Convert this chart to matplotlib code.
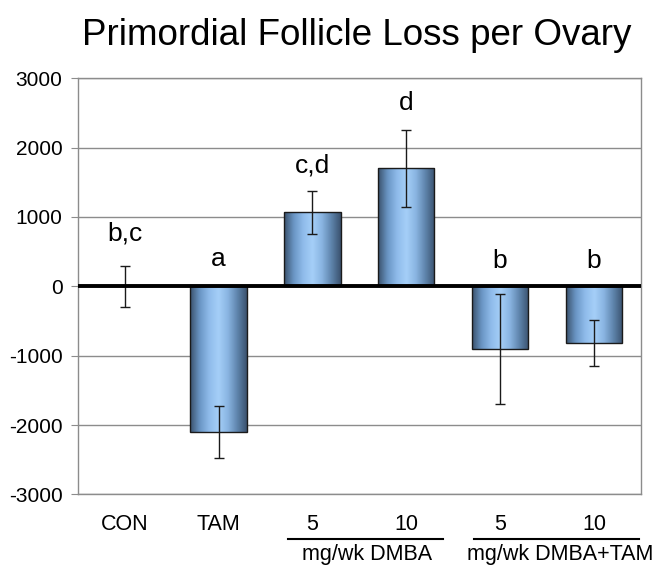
import numpy as np
import matplotlib
matplotlib.use('Agg')
import matplotlib.pyplot as plt
from matplotlib.colors import LinearSegmentedColormap

plt.rcParams['font.family'] = ['Liberation Sans', 'DejaVu Sans']
plt.rcParams['axes.unicode_minus'] = False

# datos
grupos = ['CON', 'TAM', '5', '10', '5', '10']
perdida = [0, -2100, 1065, 1700, -905, -820]
error = [300, 380, 315, 555, 790, 330]
letras = ['b,c', 'a', 'c,d', 'd', 'b', 'b']
letras_y = [760, 400, 1740, 2640, 370, 370]
subgrupos = ['mg/wk DMBA', 'mg/wk DMBA+TAM']

fig = plt.figure(figsize=(6.6, 5.67), dpi=100)
ax = fig.add_axes([0.118, 0.128, 0.853, 0.734])

x = np.arange(len(grupos))
ancho = 0.6

# degradado tipo cilindro para las barras
cmap = LinearSegmentedColormap.from_list('cil', ['#3b536e', '#6a95c4', '#8fbbea', '#a5cff8',
                                                 '#8ab5e2', '#5f85ad', '#3b5370'])
grad = np.linspace(0, 1, 100).reshape(1, -1)

barras = ax.bar(x, perdida, width=ancho, color='none', edgecolor='#1a1a1a', linewidth=1.0, zorder=3)
for b in barras:
    if b.get_height() == 0:
        continue
    x0 = b.get_x()
    y0 = b.get_y()
    h = b.get_height()
    ax.imshow(grad, cmap=cmap, aspect='auto', extent=[x0, x0 + b.get_width(), y0, y0 + h],
              zorder=2, interpolation='bicubic')

ax.errorbar(x, perdida, yerr=error, fmt='none', ecolor='#1a1a1a', elinewidth=1.0,
            capsize=3.5, capthick=1.0, zorder=4)

for i in range(len(letras)):
    ax.text(x[i], letras_y[i], letras[i], ha='center', va='center', fontsize=19, zorder=5)

ax.set_xlim(-0.5, 5.5)
ax.set_ylim(-3000, 3000)
ax.set_yticks(np.arange(-3000, 3001, 1000))
for v in np.arange(-3000, 3001, 1000):
    if v != 0:
        ax.axhline(v, color='#8c8c8c', linewidth=1.0, zorder=1)
ax.axhline(0, color='black', linewidth=2.8, zorder=5)

for s in ['left', 'right', 'bottom', 'top']:
    ax.spines[s].set_color('#8c8c8c')
    ax.spines[s].set_linewidth(1.0)

ax.tick_params(axis='y', direction='out', length=5, color='#8c8c8c', labelsize=15, pad=6)
ax.set_xticks(x)
ax.set_xticklabels(grupos, fontsize=15.5)
ax.tick_params(axis='x', length=0, pad=14)

# lineas de los grupos bajo el eje
trans = ax.get_xaxis_transform()
ax.plot([1.74, 3.39], [-0.108, -0.108], color='black', linewidth=1.5, transform=trans, clip_on=False)
ax.plot([3.72, 5.48], [-0.108, -0.108], color='black', linewidth=1.5, transform=trans, clip_on=False)
ax.text(2.58, -0.145, subgrupos[0], ha='center', va='center', fontsize=15.5, transform=trans)
ax.text(4.64, -0.145, subgrupos[1], ha='center', va='center', fontsize=15.5, transform=trans)

fig.text(0.54, 0.938, 'Primordial Follicle Loss per Ovary', ha='center', va='center', fontsize=26.5)

fig.savefig('out.png', dpi=100)
